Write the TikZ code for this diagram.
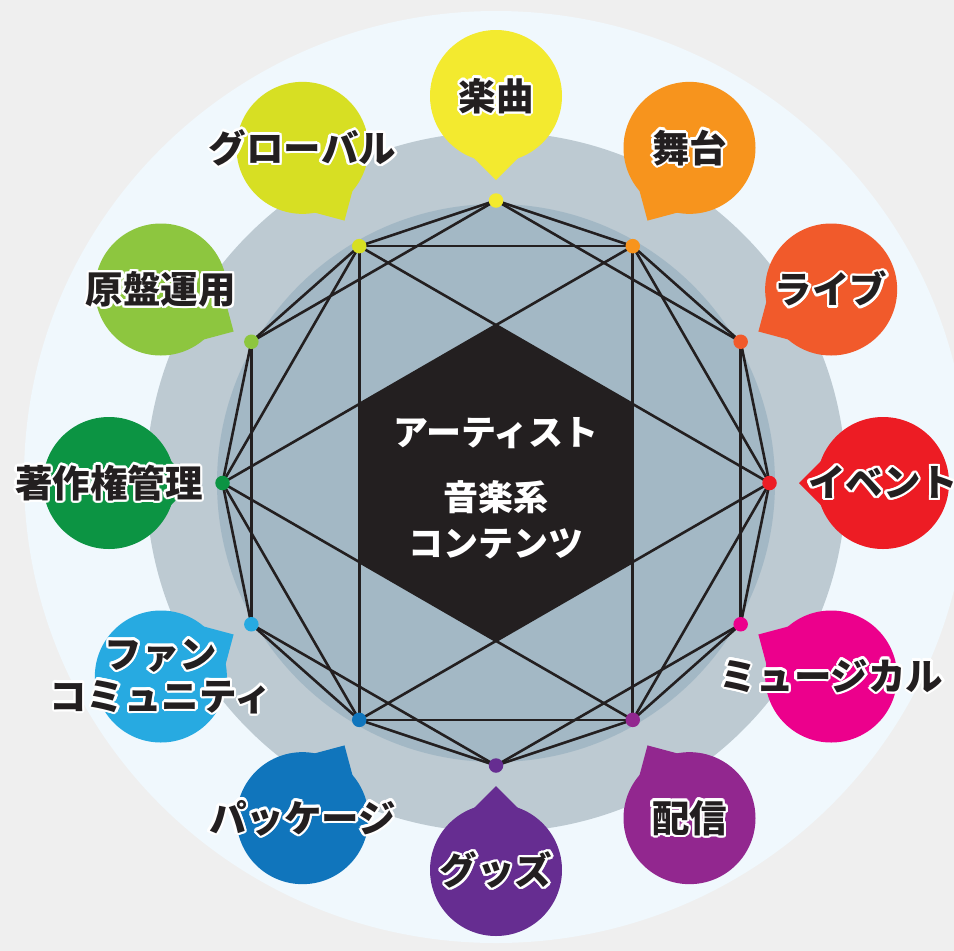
\documentclass[tikz,border=0pt]{standalone}
\usepackage{fontspec}
\setmainfont{Noto Sans CJK JP}
\usetikzlibrary{calc}

\definecolor{bgGray}{HTML}{EFEFEF}
\definecolor{paleBlue}{HTML}{F0F8FD}
\definecolor{ringGray}{HTML}{BDCAD2}
\definecolor{coreBlue}{HTML}{A3B8C5}
\definecolor{ink}{HTML}{231F20}
\definecolor{cKyoku}{HTML}{F3EA2F}
\definecolor{cButai}{HTML}{F7941D}
\definecolor{cLive}{HTML}{F15A2B}
\definecolor{cEvent}{HTML}{ED1C24}
\definecolor{cMusical}{HTML}{EC008C}
\definecolor{cHaishin}{HTML}{92278F}
\definecolor{cGoods}{HTML}{662D91}
\definecolor{cPackage}{HTML}{1075BC}
\definecolor{cFan}{HTML}{27AAE1}
\definecolor{cChosaku}{HTML}{0C9443}
\definecolor{cGenban}{HTML}{8DC63F}
\definecolor{cGlobal}{HTML}{D7DF23}

\newsavebox\halobox
\newcommand\halo[1]{%
  \setbox\halobox=\hbox{\begin{tabular}{@{}c@{}}#1\end{tabular}}%
  \rlap{\color{white}%
    \foreach \ha in {0,22.5,...,337.5}{%
      \pgfmathsetlengthmacro\hx{2.4pt*cos(\ha)}%
      \pgfmathsetlengthmacro\hy{2.4pt*sin(\ha)}%
      \rlap{\hspace*{\hx}\raisebox{\hy}{\copy\halobox}}}}%
  \copy\halobox}

\begin{document}
\begin{tikzpicture}[x=1pt,y=1pt,yscale=-1,
  link/.style={draw=ink,line width=2.6pt},
  dot/.style={circle,inner sep=0pt,minimum size=14.5pt},
  tag/.style={inner sep=0pt,text=ink,font={\fontsize{37.5}{40}\selectfont\bfseries}},
  hub/.style={inner sep=0pt,text=white,align=center,font={\fontsize{35}{46}\selectfont\bfseries}}]

\useasboundingbox (0,0) rectangle (954,951);
%Shape: Rectangle
\fill[bgGray] (0,0) rectangle (954,951);
%Shape: Ellipse
\fill[paleBlue] (496,477) ellipse (472 and 466);
%Shape: Circle
\fill[ringGray] (496,482) circle (350);
\coordinate (O) at (496,483);
%Shape: Circle
\fill[coreBlue] (O) circle (279);

% the twelve fields
\foreach \ang/\rad/\nm in {270/282.5/kyoku, 300/273.5/butai, 330/282.5/live, 0/273.5/event,
  30/282.5/musical, 60/273.5/haishin, 90/282.5/goods, 120/273.5/package,
  150/282.5/fan, 180/273.5/chosaku, 210/282.5/genban, 240/273.5/global}
  \coordinate (\nm) at ($(O)+(\ang:\rad)$);

%Shape: Hexagon
\fill[ink] ($(O)+(30:157.9)$) \foreach \a in {90,150,...,330}{ -- ($(O)+(\a:157.9)$)} -- cycle;

%Straight Lines
\foreach \a/\b in {kyoku/butai, butai/live, live/event, event/musical, musical/haishin, haishin/goods,
  goods/package, package/fan, fan/chosaku, chosaku/genban, genban/global, global/kyoku,
  kyoku/live, live/musical, musical/goods, goods/fan, fan/genban, genban/kyoku,
  global/butai, butai/event, event/haishin, haishin/package, package/chosaku, chosaku/global,
  chosaku/butai, butai/haishin, haishin/chosaku, global/event, event/package, package/global}
  \draw[link] (\a) -- (\b);

% bubbles, dots and labels
\foreach \ang/\nm/\col/\txt in {270/kyoku/cKyoku/楽曲, 300/butai/cButai/舞台, 330/live/cLive/ライブ,
  0/event/cEvent/イベント, 30/musical/cMusical/ミュージカル, 60/haishin/cHaishin/配信,
  90/goods/cGoods/グッズ, 120/package/cPackage/パッケージ, 150/fan/cFan/{ファン\\コミュニティ},
  180/chosaku/cChosaku/著作権管理, 210/genban/cGenban/原盤運用, 240/global/cGlobal/グローバル}{
  \coordinate (\nm-c) at ($(O)+(\ang:387)$);
  \coordinate (\nm-t) at ($(O)+(\ang:303)$);
  %Shape: Circle
  \fill[\col] (\nm-c) circle (66);
  %Shape: Tail
  \fill[\col] (\nm-t) -- ($(\nm-t)+(\ang+45:46)$) -- ($(\nm-t)+(\ang-45:46)$) -- cycle;
  \node[dot,fill=\col] (\nm-dot) at (\nm) {};
  \node[tag] (\nm-tag) at ($(\nm-c)+(0,4)$) {\halo{\txt}};
}

% centre
\node[hub] (artist) at (496,433) {アーティスト};
\node[hub] (media) at (496,520) {音楽系\\コンテンツ};

\end{tikzpicture}
\end{document}
